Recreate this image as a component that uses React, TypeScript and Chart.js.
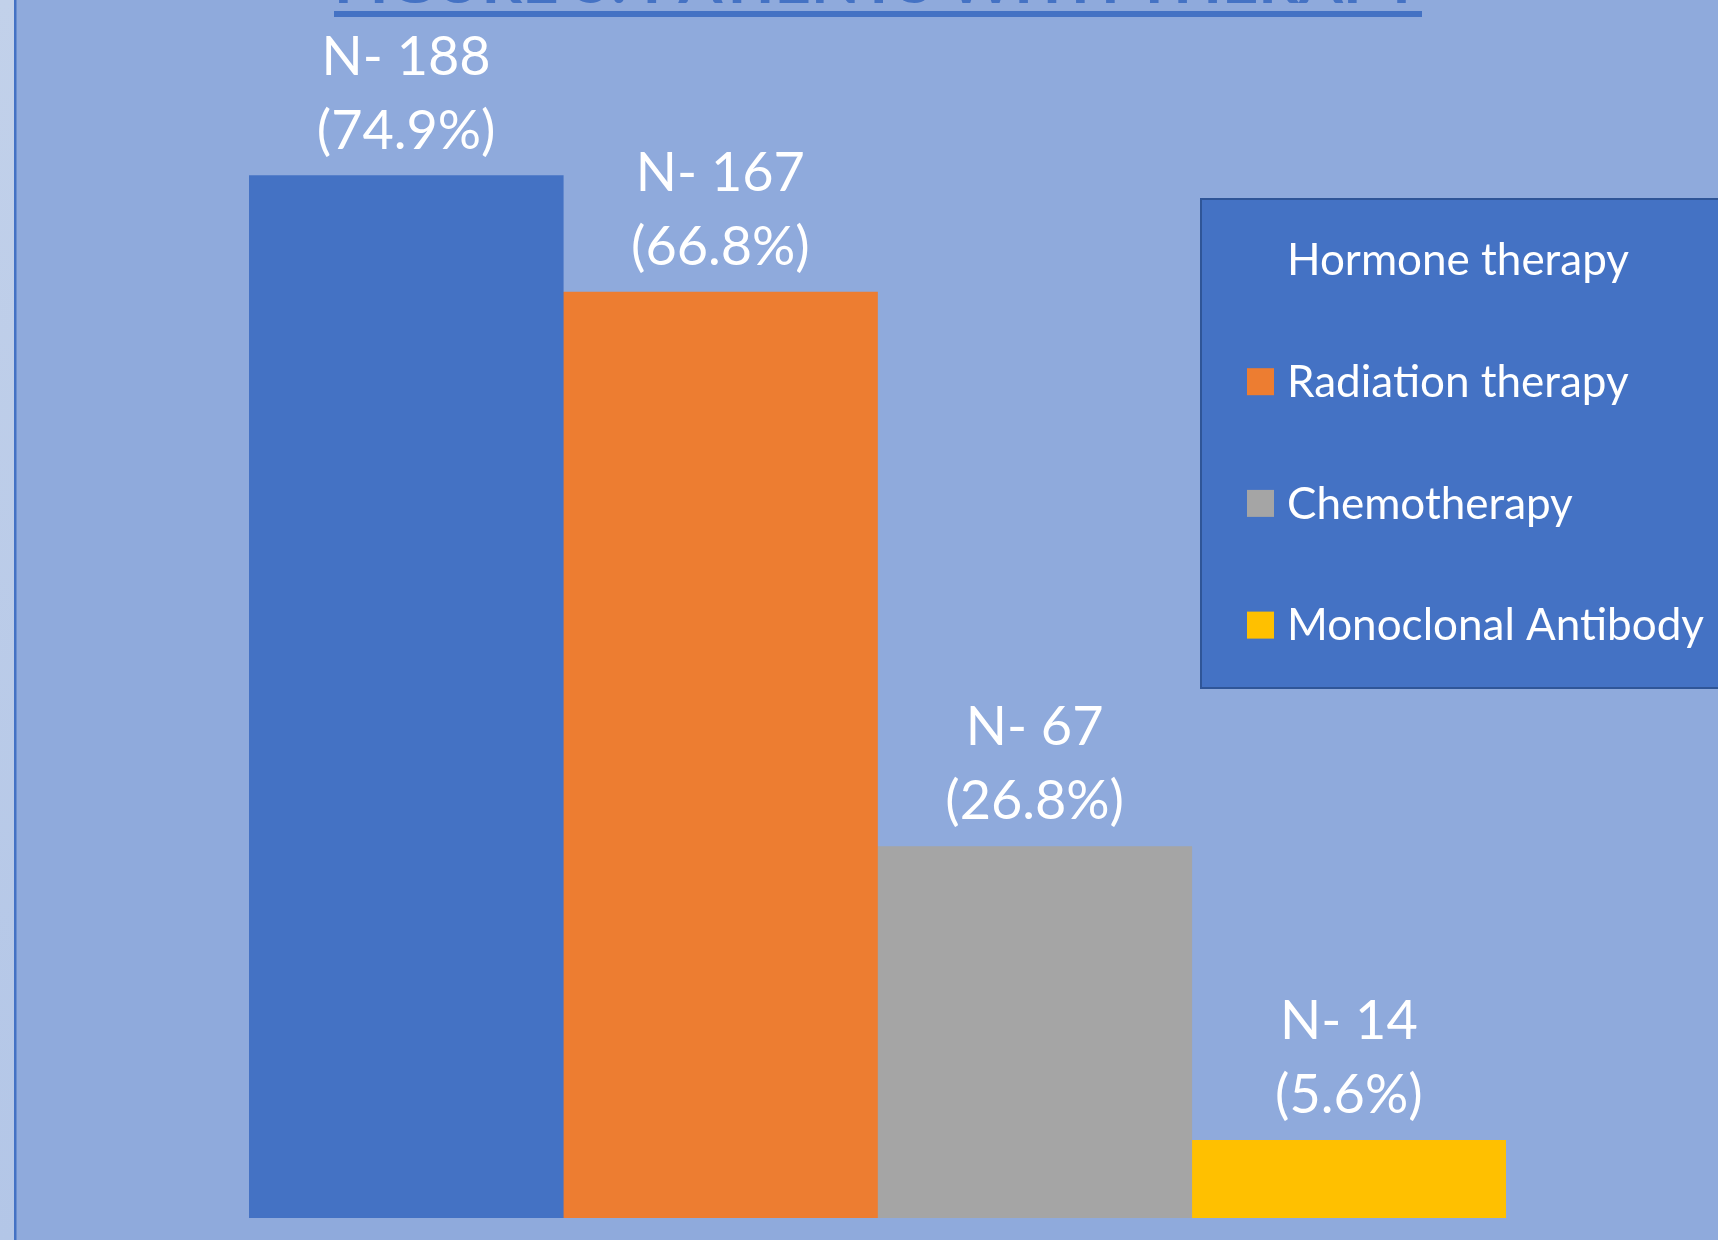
import React, { useEffect, useRef } from "react";
import { Chart, registerables } from "chart.js";

Chart.register(...registerables);

const seriesNames = ["Hormone therapy", "Radiation therapy", "Chemotherapy", "Monoclonal Antibody"];
const counts = [188, 167, 67, 14];
const percents = ["74.9%", "66.8%", "26.8%", "5.6%"];
const colors = ["#4472c4", "#ed7d31", "#a5a5a5", "#ffc000"];
const categories = [""];
const titleText = "FIGURE 5: PATIENTS WITH THERAPY";

const W = 1718;
const H = 1240;
const FONT = "Lato, 'Open Sans', sans-serif";

const backgroundPlugin = {
  id: "bgPlugin",
  beforeDraw(chart: any) {
    const ctx = chart.ctx;
    ctx.save();
    ctx.fillStyle = "#8faadc";
    ctx.fillRect(0, 0, W, H);
    const g = ctx.createLinearGradient(0, 0, 0, H);
    g.addColorStop(0, "#c2d1ea");
    g.addColorStop(1, "#b3c6e7");
    ctx.fillStyle = g;
    ctx.fillRect(0, 0, 14, H);
    ctx.fillStyle = "#4472c4";
    ctx.fillRect(14, 0, 2.5, H);
    // title (cut off at top) and underline
    ctx.font = `bold 60px ${FONT}`;
    ctx.fillStyle = "#4472c4";
    ctx.textAlign = "left";
    ctx.textBaseline = "alphabetic";
    const tw = ctx.measureText(titleText).width;
    ctx.save();
    ctx.translate(334, 3);
    ctx.scale(1088 / tw, 1);
    ctx.fillText(titleText, 0, 0);
    ctx.restore();
    ctx.fillRect(334, 11, 1088, 6);
    ctx.restore();
  },
};

const labelsPlugin = {
  id: "labelsPlugin",
  afterDatasetsDraw(chart: any) {
    const ctx = chart.ctx;
    ctx.save();
    ctx.fillStyle = "#ffffff";
    ctx.textAlign = "center";
    ctx.textBaseline = "alphabetic";
    ctx.font = `54px ${FONT}`;
    chart.data.datasets.forEach((ds: any, i: number) => {
      const meta = chart.getDatasetMeta(i);
      const bar = meta.data[0];
      if (!bar) return;
      const x = bar.x;
      const top = bar.y;
      ctx.fillText(`(${percents[i]})`, x, top - 27);
      ctx.fillText(`N- ${counts[i]}`, x, top - 101);
    });
    ctx.restore();
  },
};

const legendPlugin = {
  id: "customLegend",
  afterDraw(chart: any) {
    const ctx = chart.ctx;
    ctx.save();
    const bx = 1201;
    const by = 199;
    const bw = 560;
    const bh = 489;
    ctx.fillStyle = "#4472c4";
    ctx.fillRect(bx, by, bw, bh);
    ctx.strokeStyle = "#2f5597";
    ctx.lineWidth = 2;
    ctx.strokeRect(bx, by, bw, bh);
    ctx.font = `44px ${FONT}`;
    ctx.textAlign = "left";
    ctx.textBaseline = "middle";
    chart.data.datasets.forEach((ds: any, i: number) => {
      const cy = 260 + i * 121.7;
      ctx.fillStyle = ds.backgroundColor;
      ctx.fillRect(1247, cy - 13.5, 27, 27);
      ctx.fillStyle = "#ffffff";
      ctx.fillText(ds.label, 1287, cy + 1);
    });
    ctx.restore();
  },
};

export default function App() {
  const ref = useRef<HTMLCanvasElement | null>(null);
  useEffect(() => {
    document.body.style.margin = "0";
    document.body.style.overflow = "hidden";
    if (!ref.current) return;
    const chart = new Chart(ref.current, {
      type: "bar",
      data: {
        labels: categories,
        datasets: seriesNames.map((name, i) => ({
          label: name,
          data: [counts[i]],
          backgroundColor: colors[i],
          borderWidth: 0,
          categoryPercentage: 1,
          barPercentage: 1,
        })),
      },
      options: {
        responsive: false,
        animation: false,
        devicePixelRatio: 1,
        layout: { padding: { left: 249, right: 212, top: 109, bottom: 22 } },
        plugins: { legend: { display: false }, tooltip: { enabled: false }, title: { display: false } },
        scales: {
          x: { display: false, grid: { display: false } },
          y: { display: false, min: 0, max: 200, grid: { display: false } },
        },
      },
      plugins: [backgroundPlugin, labelsPlugin, legendPlugin],
    });
    return () => chart.destroy();
  }, []);
  return (
    <div style={{ width: W, height: H }}>
      <canvas ref={ref} width={W} height={H} style={{ display: "block" }} />
    </div>
  );
}
